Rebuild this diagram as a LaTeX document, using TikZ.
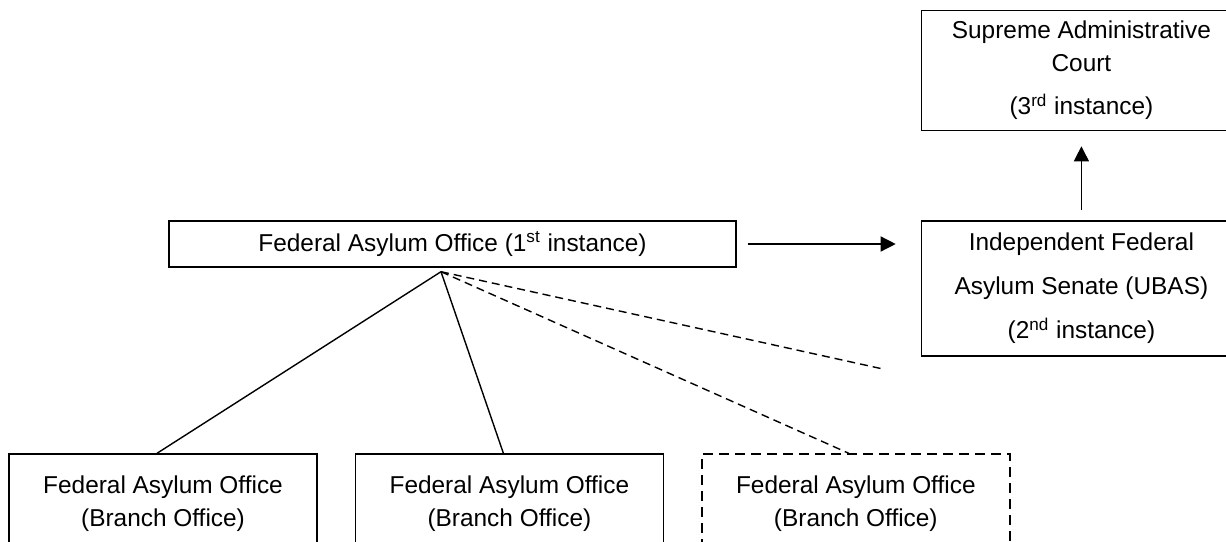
\documentclass[tikz,border=0pt]{standalone}
\usepackage{fontspec}
\setmainfont{Liberation Sans}
\usepackage{tikz}
\usetikzlibrary{
  arrows.meta,
  positioning
}
\tikzset{
  office/.style={draw,line width=0.7pt,inner sep=0pt,minimum height=23pt,align=center,font=\fontsize{12.2}{16.5}\selectfont},
  court/.style={draw,line width=0.7pt,inner sep=0pt,minimum width=160pt,align=center,font=\fontsize{12.2}{16.5}\selectfont},
  branch/.style={draw,line width=0.7pt,inner sep=0pt,minimum width=154pt,minimum height=49.5pt,align=center,font=\fontsize{12.2}{16.5}\selectfont},
  branchdash/.style={branch,dash pattern=on 5pt off 3pt},
  appeal/.style={-{Triangle[length=7.5pt,width=7.5pt]},line width=0.7pt},
  link/.style={line width=0.7pt},
  linkdash/.style={line width=0.7pt,dash pattern=on 4pt off 2.5pt}
}
\begin{document}
\begin{tikzpicture}
\useasboundingbox (0,0) rectangle (613pt,-270.5pt);
\node[office, minimum width=283.5pt] (fao) at (226.25pt,-122pt) {Federal Asylum Office (1\textsuperscript{st} instance)};
\node[court, minimum height=67.5pt, right=92pt of fao.north east, anchor=north west] (ubas) {Independent Federal\\[5.5pt]Asylum Senate (UBAS)\\[5.5pt](2\textsuperscript{nd} instance)};
\node[court, minimum height=60pt, above=44.5pt of ubas] (vwgh) {Supreme Administrative\\Court\\[5pt](3\textsuperscript{rd} instance)};
\node[branch] (b1) at (81.5pt,-251.75pt) {Federal Asylum Office\\(Branch Office)};
\node[branch, right=18.5pt of b1] (b2) {Federal Asylum Office\\(Branch Office)};
\node[branchdash, right=18.5pt of b2] (b3) {Federal Asylum Office\\(Branch Office)};
\coordinate (j) at ([xshift=-5.75pt,yshift=-2pt]fao.south);
\coordinate (open) at (441.5pt,-184.5pt);

\draw[appeal, shorten <=5.5pt, shorten >=12.5pt] (fao) -- (ubas.west |- fao);
\draw[appeal, shorten <=5pt, shorten >=7.5pt] (ubas) -- (vwgh);
\draw[link] (j) -- ([xshift=-3pt]b1.north);
\draw[link] (j) -- ([xshift=-3pt]b2.north);
\draw[linkdash] (j) -- ([xshift=-3.5pt]b3.north);
\draw[linkdash] (j) -- (open);
\end{tikzpicture}
\end{document}
